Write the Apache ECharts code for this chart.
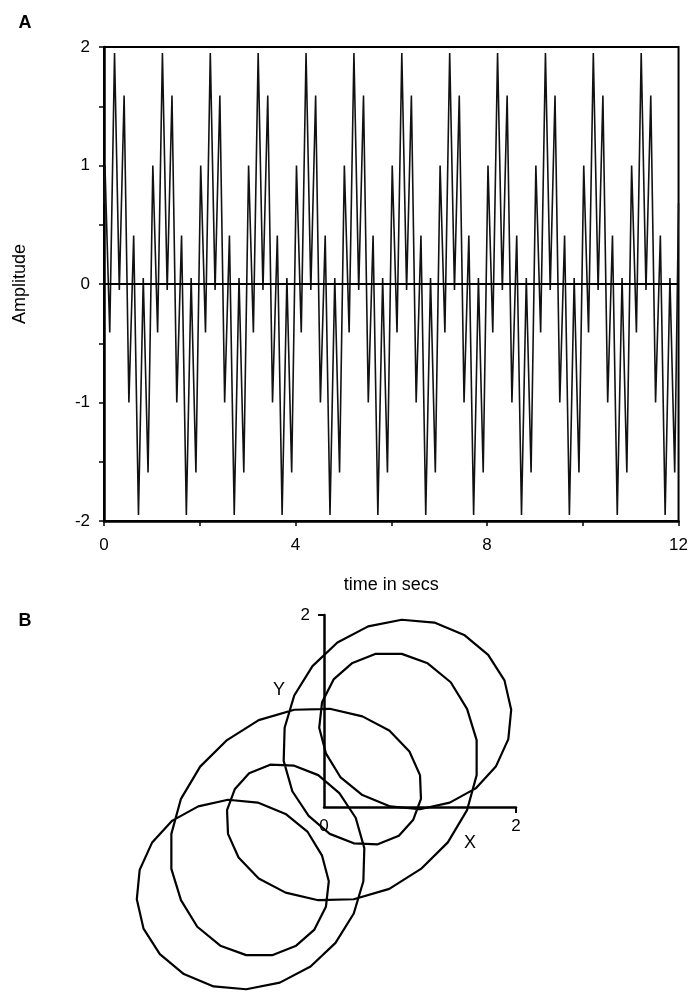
<!DOCTYPE html>
<html>
<head>
<meta charset="utf-8">
<script src="https://cdn.jsdelivr.net/npm/echarts@6/dist/echarts.min.js"></script>
<style>
  html, body { margin: 0; padding: 0; background: #fff; }
  #chart { width: 691px; height: 994px; }
</style>
</head>
<body>
<div id="chart"></div>
<script>
// panel A: turning points of the waveform, one line per second
var timeSec = [
  0, 0.02, 0.12, 0.22, 0.32, 0.42, 0.52, 0.62, 0.72, 0.82, 0.92,
  1.02, 1.12, 1.22, 1.32, 1.42, 1.52, 1.62, 1.72, 1.82, 1.92,
  2.02, 2.12, 2.22, 2.32, 2.42, 2.52, 2.62, 2.72, 2.82, 2.92,
  3.02, 3.12, 3.22, 3.32, 3.42, 3.52, 3.62, 3.72, 3.82, 3.92,
  4.02, 4.12, 4.22, 4.32, 4.42, 4.52, 4.62, 4.72, 4.82, 4.92,
  5.02, 5.12, 5.22, 5.32, 5.42, 5.52, 5.62, 5.72, 5.82, 5.92,
  6.02, 6.12, 6.22, 6.32, 6.42, 6.52, 6.62, 6.72, 6.82, 6.92,
  7.02, 7.12, 7.22, 7.32, 7.42, 7.52, 7.62, 7.72, 7.82, 7.92,
  8.02, 8.12, 8.22, 8.32, 8.42, 8.52, 8.62, 8.72, 8.82, 8.92,
  9.02, 9.12, 9.22, 9.32, 9.42, 9.52, 9.62, 9.72, 9.82, 9.92,
  10.02, 10.12, 10.22, 10.32, 10.42, 10.52, 10.62, 10.72, 10.82, 10.92,
  11.02, 11.12, 11.22, 11.32, 11.42, 11.52, 11.62, 11.72, 11.82, 11.92,
  12
];
var amplitude = [
  0.68, 1.00, -0.41, 1.95, -0.05, 1.59, -1.00, 0.41, -1.95, 0.05, -1.59,
  1.00, -0.41, 1.95, -0.05, 1.59, -1.00, 0.41, -1.95, 0.05, -1.59,
  1.00, -0.41, 1.95, -0.05, 1.59, -1.00, 0.41, -1.95, 0.05, -1.59,
  1.00, -0.41, 1.95, -0.05, 1.59, -1.00, 0.41, -1.95, 0.05, -1.59,
  1.00, -0.41, 1.95, -0.05, 1.59, -1.00, 0.41, -1.95, 0.05, -1.59,
  1.00, -0.41, 1.95, -0.05, 1.59, -1.00, 0.41, -1.95, 0.05, -1.59,
  1.00, -0.41, 1.95, -0.05, 1.59, -1.00, 0.41, -1.95, 0.05, -1.59,
  1.00, -0.41, 1.95, -0.05, 1.59, -1.00, 0.41, -1.95, 0.05, -1.59,
  1.00, -0.41, 1.95, -0.05, 1.59, -1.00, 0.41, -1.95, 0.05, -1.59,
  1.00, -0.41, 1.95, -0.05, 1.59, -1.00, 0.41, -1.95, 0.05, -1.59,
  1.00, -0.41, 1.95, -0.05, 1.59, -1.00, 0.41, -1.95, 0.05, -1.59,
  1.00, -0.41, 1.95, -0.05, 1.59, -1.00, 0.41, -1.95, 0.05, -1.59,
  0.68
];

// panel B: X against Y, closed path
var phaseX = [
  1.00, 1.01, 0.93, 0.78, 0.56, 0.31, 0.06, -0.16, -0.33, -0.42,
  -0.41, -0.31, -0.12, 0.14, 0.46, 0.81, 1.15, 1.46, 1.71, 1.88,
  1.95, 1.92, 1.79, 1.58, 1.31, 1.00, 0.69, 0.40, 0.17, 0.02,
  -0.05, -0.02, 0.10, 0.29, 0.54, 0.81, 1.08, 1.32, 1.49, 1.59,
  1.59, 1.49, 1.29, 1.01, 0.68, 0.31, -0.06, -0.40, -0.68, -0.89,
  -1.00, -1.01, -0.93, -0.78, -0.56, -0.31, -0.06, 0.16, 0.33, 0.42,
  0.41, 0.31, 0.12, -0.14, -0.46, -0.81, -1.15, -1.46, -1.71, -1.88,
  -1.95, -1.92, -1.79, -1.58, -1.31, -1.00, -0.69, -0.40, -0.17, -0.02,
  0.05, 0.02, -0.10, -0.29, -0.54, -0.81, -1.08, -1.32, -1.49, -1.59,
  -1.59, -1.49, -1.29, -1.01, -0.68, -0.31, 0.06, 0.40, 0.68, 0.89,
  1.00
];
var phaseY = [
  0.31, 0.06, -0.16, -0.33, -0.42, -0.41, -0.31, -0.12, 0.14, 0.46,
  0.81, 1.15, 1.46, 1.71, 1.88, 1.95, 1.92, 1.79, 1.58, 1.31,
  1.00, 0.69, 0.40, 0.17, 0.02, -0.05, -0.02, 0.10, 0.29, 0.54,
  0.81, 1.08, 1.32, 1.49, 1.59, 1.59, 1.49, 1.29, 1.01, 0.68,
  0.31, -0.06, -0.40, -0.68, -0.89, -1.00, -1.01, -0.93, -0.78, -0.56,
  -0.31, -0.06, 0.16, 0.33, 0.42, 0.41, 0.31, 0.12, -0.14, -0.46,
  -0.81, -1.15, -1.46, -1.71, -1.88, -1.95, -1.92, -1.79, -1.58, -1.31,
  -1.00, -0.69, -0.40, -0.17, -0.02, 0.05, 0.02, -0.10, -0.29, -0.54,
  -0.81, -1.08, -1.32, -1.49, -1.59, -1.59, -1.49, -1.29, -1.01, -0.68,
  -0.31, 0.06, 0.40, 0.68, 0.89, 1.00, 1.01, 0.93, 0.78, 0.56,
  0.31
];

var ampTicks = [-2, -1, 0, 1, 2];
var timeTicks = [0, 4, 8, 12];

var font = "'Liberation Sans', Arial, Helvetica, sans-serif";

function zip(a, b) {
  var out = [];
  for (var i = 0; i < a.length; i++) out.push([a[i], b[i]]);
  return out;
}

var chart = echarts.init(document.getElementById('chart'), null, { renderer: 'canvas' });

var axisLine = { onZero: false, lineStyle: { color: '#000', width: 2.5 } };

var option = {
  animation: false,
  backgroundColor: '#fff',
  textStyle: { fontFamily: font, color: '#000' },
  grid: [
    { left: 104, right: 8, top: 47, bottom: 473, show: true, borderColor: '#000', borderWidth: 2 },
    { left: 132, width: 384, top: 615, height: 384 },
    { left: 324, width: 192, top: 615, height: 192 }
  ],
  xAxis: [
    {
      gridIndex: 0, type: 'value', min: 0, max: 12, interval: 2,
      name: 'time in secs', nameLocation: 'middle', nameGap: 55,
      nameTextStyle: { fontSize: 18, color: '#000', fontFamily: font },
      axisLine: axisLine,
      axisTick: { length: 5, lineStyle: { color: '#000', width: 1.5 } },
      axisLabel: {
        fontSize: 17, color: '#000', margin: 16, fontFamily: font,
        formatter: function (v) { return timeTicks.indexOf(v) >= 0 ? String(v) : ''; }
      },
      splitLine: { show: false }
    },
    { gridIndex: 1, type: 'value', min: -2, max: 2, show: false },
    {
      gridIndex: 2, type: 'value', min: 0, max: 2,
      axisLine: axisLine,
      axisTick: { customValues: [2], length: 6, lineStyle: { color: '#000', width: 2 } },
      axisLabel: { customValues: [0, 2], fontSize: 17, color: '#000', margin: 11, fontFamily: font },
      splitLine: { show: false }
    }
  ],
  yAxis: [
    {
      gridIndex: 0, type: 'value', min: -2, max: 2, interval: 0.5,
      name: 'Amplitude', nameLocation: 'middle', nameGap: 75,
      nameTextStyle: { fontSize: 18, color: '#000', fontFamily: font },
      axisLine: axisLine,
      axisTick: { length: 5, lineStyle: { color: '#000', width: 1.5 } },
      axisLabel: {
        fontSize: 17, color: '#000', margin: 14, fontFamily: font,
        formatter: function (v) { return ampTicks.indexOf(v) >= 0 ? String(v) : ''; }
      },
      splitLine: { show: false }
    },
    { gridIndex: 1, type: 'value', min: -2, max: 2, show: false },
    {
      gridIndex: 2, type: 'value', min: 0, max: 2,
      axisLine: axisLine,
      axisTick: { customValues: [2], length: 6, lineStyle: { color: '#000', width: 2 } },
      axisLabel: { customValues: [2], fontSize: 17, color: '#000', margin: 14, fontFamily: font },
      splitLine: { show: false }
    }
  ],
  series: [
    {
      type: 'line', xAxisIndex: 0, yAxisIndex: 0,
      data: zip(timeSec, amplitude),
      showSymbol: false, symbol: 'none',
      lineStyle: { color: '#111', width: 1.6 },
      markLine: {
        silent: true, symbol: 'none', label: { show: false },
        lineStyle: { color: '#000', width: 1.8, type: 'solid' },
        data: [{ yAxis: 0 }]
      }
    },
    {
      type: 'line', xAxisIndex: 1, yAxisIndex: 1,
      data: zip(phaseX, phaseY),
      showSymbol: false, symbol: 'none',
      lineStyle: { color: '#000', width: 2.2 }
    }
  ],
  graphic: [
    { type: 'text', x: 25, y: 23, style: { text: 'A', fontSize: 18, fontWeight: 'bold', fontFamily: font, fill: '#000', align: 'center', verticalAlign: 'middle' } },
    { type: 'text', x: 25, y: 621, style: { text: 'B', fontSize: 18, fontWeight: 'bold', fontFamily: font, fill: '#000', align: 'center', verticalAlign: 'middle' } },
    { type: 'text', x: 279, y: 690, style: { text: 'Y', fontSize: 18, fontFamily: font, fill: '#000', align: 'center', verticalAlign: 'middle' } },
    { type: 'text', x: 470, y: 843, style: { text: 'X', fontSize: 18, fontFamily: font, fill: '#000', align: 'center', verticalAlign: 'middle' } }
  ]
};

chart.setOption(option);
</script>
</body>
</html>
